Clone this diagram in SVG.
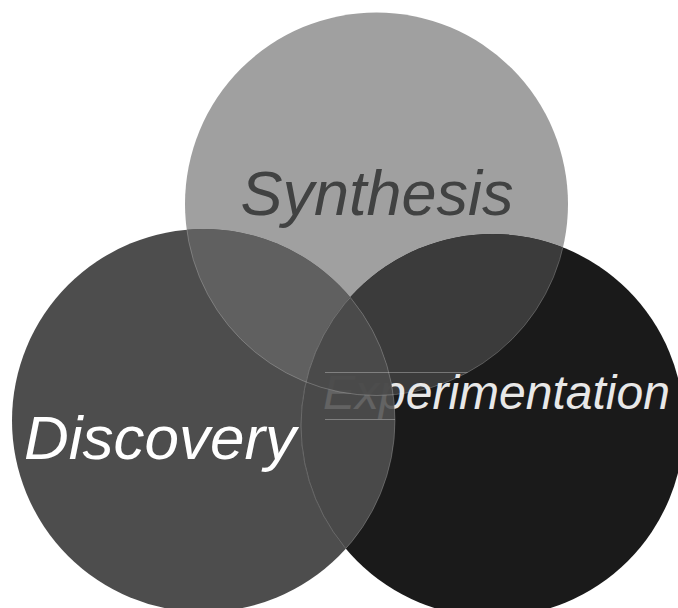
<svg xmlns="http://www.w3.org/2000/svg" width="678" height="608" viewBox="0 0 678 608">
  <style>
    .lbl { font-family: "Liberation Sans", Arial, sans-serif; font-style: italic; }
    .edge { fill: none; stroke: #ffffff; stroke-opacity: 0.22; stroke-width: 1; }
    .bbox { fill: none; stroke: #ffffff; stroke-opacity: 0.3; stroke-width: 1; }
  </style>
  <defs>
    <clipPath id="clipT"><circle cx="376.5" cy="204" r="191.5"/></clipPath>
    <clipPath id="clipL"><circle cx="203.5" cy="420.5" r="191.5"/></clipPath>
    <clipPath id="clipR"><circle cx="492.5" cy="425.5" r="191.5"/></clipPath>
    <clipPath id="clipLR">
      <circle cx="203.5" cy="420.5" r="191.5"/>
      <circle cx="492.5" cy="425.5" r="191.5"/>
    </clipPath>
  </defs>
  <rect width="678" height="608" fill="#ffffff"/>

  <g id="synthesis">
    <circle cx="376.5" cy="204" r="191.5" fill="#a0a0a0"/>
    <text class="lbl" x="377" y="214.5" font-size="63" text-anchor="middle" fill="#414242">Synthesis</text>
  </g>

  <g id="discovery">
    <circle cx="203.5" cy="420.5" r="191.5" fill="#4d4d4d"/>
    <text class="lbl" x="160" y="459" font-size="62" text-anchor="middle" fill="#ffffff">Discovery</text>
  </g>

  <g id="experimentation">
    <circle cx="492.5" cy="425.5" r="191.5" fill="#1a1a1a"/>
  </g>

  <g id="overlaps-top">
    <circle cx="203.5" cy="420.5" r="191.5" fill="#606060" clip-path="url(#clipT)"/>
    <circle cx="492.5" cy="425.5" r="191.5" fill="#3b3b3b" clip-path="url(#clipT)"/>
  </g>

  <g id="experimentation-label">
    <text class="lbl" x="323" y="409" font-size="48" fill="#e8e8e8">Experimentation</text>
  </g>

  <g id="overlaps-bottom" fill-opacity="0.88">
    <circle cx="203.5" cy="420.5" r="191.5" fill="#505050" clip-path="url(#clipR)"/>
    <g clip-path="url(#clipR)">
      <circle cx="376.5" cy="204" r="191.5" fill="#4a4a4a" clip-path="url(#clipL)"/>
    </g>
  </g>

  <g id="connectors">
    <circle class="edge" cx="376.5" cy="204" r="191.5" clip-path="url(#clipLR)"/>
    <circle class="edge" cx="203.5" cy="420.5" r="191.5" clip-path="url(#clipR)"/>
    <circle class="edge" cx="492.5" cy="425.5" r="191.5" clip-path="url(#clipL)"/>
    <line class="bbox" x1="325" y1="372.5" x2="469" y2="372.5" clip-path="url(#clipT)"/>
    <line class="bbox" x1="325" y1="419.5" x2="400" y2="419.5" clip-path="url(#clipL)"/>
  </g>
</svg>
